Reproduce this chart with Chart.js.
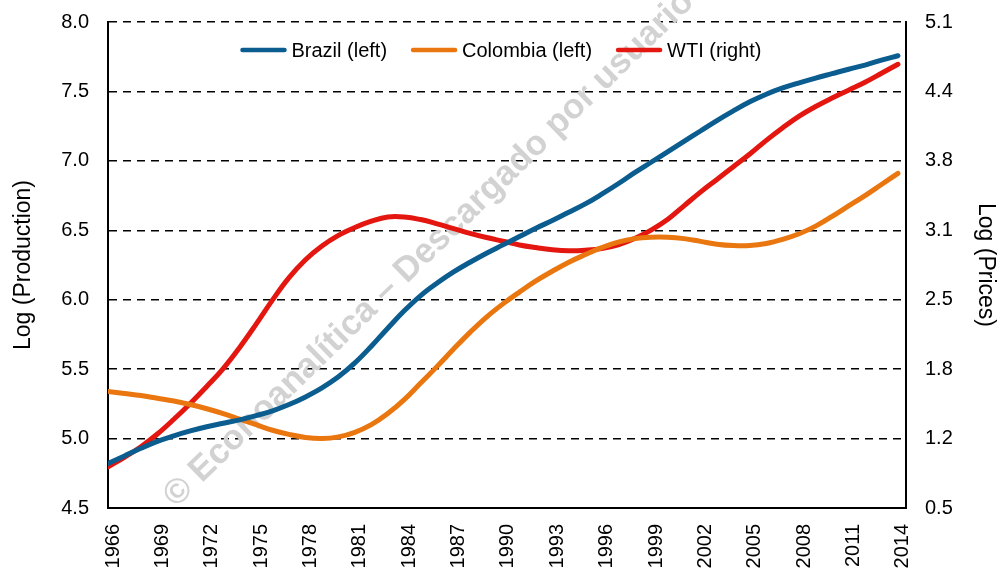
<!DOCTYPE html>
<html>
<head>
<meta charset="utf-8">
<script src="https://cdn.jsdelivr.net/npm/chart.js@4.4.1/dist/chart.umd.min.js"></script>
<style>
  html, body { margin: 0; padding: 0; background: #ffffff; overflow: hidden; }
  #wrap { width: 999px; height: 600px; }
</style>
</head>
<body>
<div id="wrap"><canvas id="c" width="999" height="600"></canvas></div>
<script>
const years = [1966,1967,1968,1969,1970,1971,1972,1973,1974,1975,1976,1977,1978,1979,1980,
  1981,1982,1983,1984,1985,1986,1987,1988,1989,1990,1991,1992,1993,1994,1995,1996,1997,1998,
  1999,2000,2001,2002,2003,2004,2005,2006,2007,2008,2009,2010,2011,2012,2013,2014];

const brazil = [4.82,4.875,4.93,4.98,5.02,5.055,5.085,5.11,5.135,5.165,5.20,5.245,5.30,5.365,5.445,
  5.545,5.665,5.795,5.92,6.03,6.12,6.20,6.27,6.335,6.395,6.455,6.515,6.57,6.63,6.69,6.76,6.835,6.915,
  6.99,7.065,7.14,7.215,7.29,7.36,7.425,7.48,7.525,7.562,7.596,7.628,7.66,7.69,7.725,7.757];

const colombia = [5.34,5.325,5.31,5.29,5.27,5.245,5.215,5.18,5.14,5.10,5.06,5.03,5.008,5.00,5.012,
  5.045,5.10,5.18,5.28,5.40,5.52,5.645,5.765,5.875,5.97,6.055,6.135,6.205,6.27,6.325,6.375,6.415,6.44,
  6.45,6.45,6.44,6.42,6.40,6.39,6.39,6.405,6.435,6.475,6.53,6.60,6.675,6.75,6.83,6.91];

const wti = [0.89,0.98,1.08,1.20,1.34,1.49,1.65,1.82,2.02,2.24,2.47,2.68,2.85,2.98,3.08,
  3.155,3.215,3.255,3.255,3.23,3.19,3.145,3.10,3.06,3.025,2.99,2.965,2.945,2.935,2.94,2.955,2.99,3.05,
  3.13,3.23,3.36,3.49,3.61,3.73,3.85,3.98,4.10,4.21,4.30,4.38,4.455,4.53,4.615,4.70];

const xTickYears = [1966,1969,1972,1975,1978,1981,1984,1987,1990,1993,1996,1999,2002,2005,2008,2011,2014];
const leftTicks = [4.5,5.0,5.5,6.0,6.5,7.0,7.5,8.0];
const rightTickLabels = ['0.5','1.2','1.8','2.5','3.1','3.8','4.4','5.1'];
const leftMin = 4.5, leftMax = 8.0, rightMin = 0.5, rightMax = 5.1;

const seriesNames = ['Brazil (left)', 'Colombia (left)', 'WTI (right)'];
const seriesColors = ['#0b5c8f', '#e9760f', '#e3170f'];

const FONT = "'Liberation Sans', Arial, sans-serif";

const toPts = (arr) => arr.map((v, i) => ({x: years[i], y: v}));

const watermark = {
  id: 'watermark',
  beforeDatasetsDraw(chart) {
    const ctx = chart.ctx;
    ctx.save();
    ctx.translate(429, 249);
    ctx.rotate(-44.2 * Math.PI / 180);
    ctx.font = "bold 35px " + FONT;
    ctx.fillStyle = '#d2d2d2';
    ctx.textAlign = 'center';
    ctx.textBaseline = 'middle';
    ctx.fillText('© Econoanalítica – Descargado por usuario', 0, 0);
    ctx.restore();
  }
};

// Horizontal legend drawn inside the plot area, from the chart's datasets
const insideLegend = {
  id: 'insideLegend',
  afterDraw(chart) {
    const ctx = chart.ctx;
    const area = chart.chartArea;
    const sample = 46, gapText = 5, gapItem = 24;
    ctx.save();
    ctx.font = "20px " + FONT;
    const items = chart.data.datasets.map(ds => ({
      label: ds.label, color: ds.borderColor, w: ctx.measureText(ds.label).width
    }));
    const total = items.reduce((s, it) => s + sample + gapText + it.w, 0) + gapItem * (items.length - 1);
    let x = (area.left + area.right) / 2 - 6 - total / 2;
    const y = area.top + 28;
    items.forEach(it => {
      ctx.strokeStyle = it.color;
      ctx.lineWidth = 4.5;
      ctx.lineCap = 'round';
      ctx.beginPath();
      ctx.moveTo(x + 2, y);
      ctx.lineTo(x + sample - 2, y);
      ctx.stroke();
      ctx.fillStyle = '#000000';
      ctx.textAlign = 'left';
      ctx.textBaseline = 'middle';
      ctx.fillText(it.label, x + sample + gapText, y + 1);
      x += sample + gapText + it.w + gapItem;
    });
    ctx.restore();
  }
};

const fixVertical = (w) => (s) => { s.width = w; s.paddingTop = 0; s.paddingBottom = 0; };

new Chart(document.getElementById('c'), {
  type: 'line',
  data: {
    datasets: [
      { label: seriesNames[0], data: toPts(brazil), yAxisID: 'y', borderColor: seriesColors[0], backgroundColor: seriesColors[0] },
      { label: seriesNames[1], data: toPts(colombia), yAxisID: 'y', borderColor: seriesColors[1], backgroundColor: seriesColors[1] },
      { label: seriesNames[2], data: toPts(wti), yAxisID: 'y1', borderColor: seriesColors[2], backgroundColor: seriesColors[2] }
    ]
  },
  plugins: [watermark, insideLegend],
  options: {
    responsive: false,
    animation: false,
    layout: { padding: { top: 22, left: 0, right: 0, bottom: 0 } },
    elements: {
      point: { radius: 0 },
      line: { borderWidth: 5, tension: 0.4, borderCapStyle: 'round', borderJoinStyle: 'round' }
    },
    plugins: {
      tooltip: { enabled: false },
      legend: { display: false }
    },
    scales: {
      x: {
        type: 'linear',
        min: 1966,
        max: 2014.49,
        afterBuildTicks: (s) => { s.ticks = xTickYears.map(v => ({ value: v })); },
        afterFit: (s) => { s.height = 92; s.paddingLeft = 0; s.paddingRight = 0; },
        grid: { display: false, drawTicks: false },
        border: { display: true, color: '#000000', width: 2 },
        ticks: {
          autoSkip: false,
          minRotation: 90,
          maxRotation: 90,
          padding: 16,
          labelOffset: 5,
          color: '#000000',
          font: { family: FONT, size: 20 },
          callback: (v) => String(v)
        }
      },
      y: {
        position: 'left',
        min: leftMin,
        max: leftMax,
        afterBuildTicks: (s) => { s.ticks = leftTicks.map(v => ({ value: v })); },
        afterFit: fixVertical(108),
        grid: { display: true, color: '#000000', lineWidth: 1.5, drawTicks: false },
        border: { display: true, color: '#000000', width: 2, dash: [8, 6] },
        ticks: {
          padding: 19,
          color: '#000000',
          font: { family: FONT, size: 20 },
          callback: (v) => Number(v).toFixed(1)
        },
        title: {
          display: true,
          text: 'Log (Production)',
          color: '#000000',
          font: { family: FONT, size: 23 },
          padding: { top: 10, bottom: 0 }
        }
      },
      y1: {
        position: 'right',
        min: rightMin,
        max: rightMax,
        afterBuildTicks: (s) => {
          s.ticks = rightTickLabels.map((_, i) => ({ value: rightMin + i * (rightMax - rightMin) / (rightTickLabels.length - 1) }));
        },
        afterFit: fixVertical(93),
        grid: { display: false, drawTicks: false },
        border: { display: true, color: '#000000', width: 2 },
        ticks: {
          padding: 19,
          color: '#000000',
          font: { family: FONT, size: 20 },
          callback: (v, i) => rightTickLabels[i]
        },
        title: {
          display: true,
          text: 'Log (Prices)',
          color: '#000000',
          font: { family: FONT, size: 23 },
          padding: { top: 0, bottom: 0 }
        }
      }
    }
  }
});
</script>
</body>
</html>
